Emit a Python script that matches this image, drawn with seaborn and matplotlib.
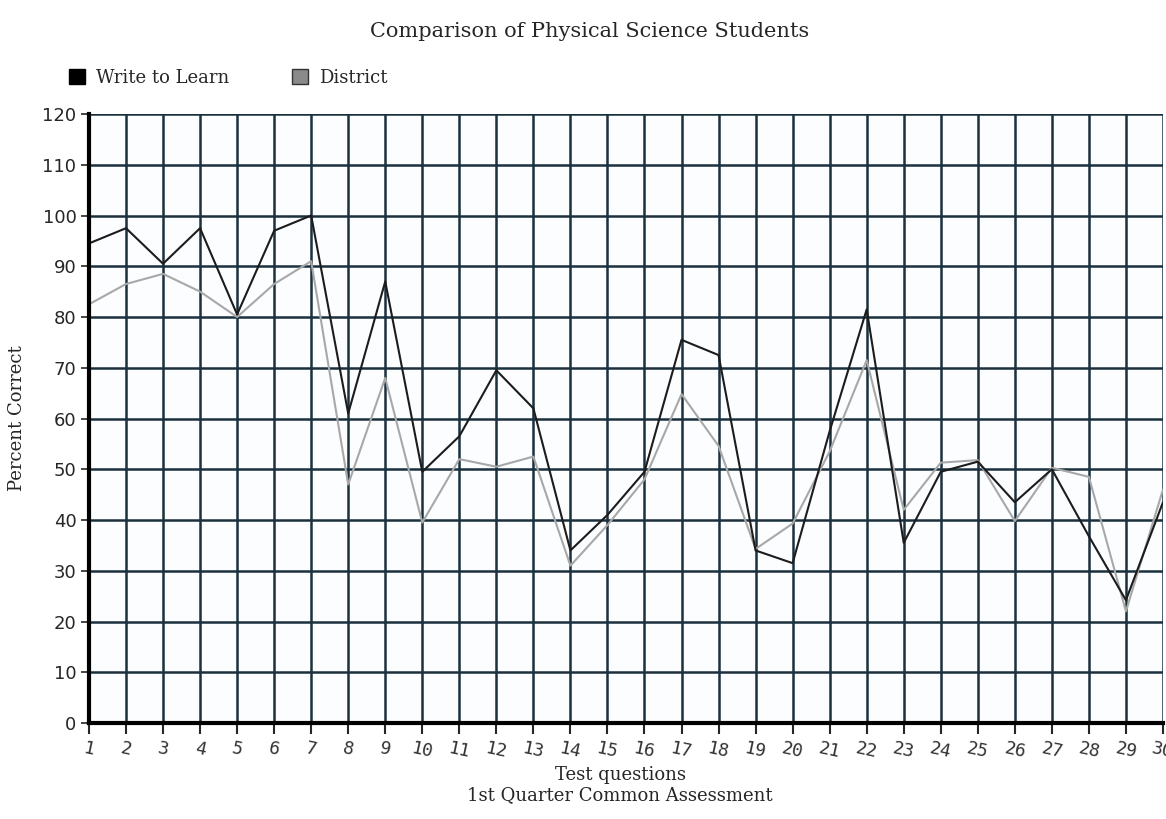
import numpy as np
import pandas as pd
import matplotlib
matplotlib.use("Agg")
import matplotlib.pyplot as plt
import seaborn as sns
from matplotlib.patches import Patch

# data
questions = list(range(1, 31))
write_to_learn = [94.5, 97.5, 90.5, 97.5, 80.5, 97, 100, 61, 87, 49.5,
                  56.5, 69.5, 62, 34, 41, 49.5, 75.5, 72.5, 34, 31.5,
                  57.5, 81.5, 35.5, 49.5, 51.5, 43.5, 50, 36.8, 24.2, 43.5]
district = [82.5, 86.5, 88.5, 85, 80, 86.5, 91, 47, 68, 39.5,
            52, 50.5, 52.5, 31, 39, 48, 64.8, 54.6, 34.3, 39.3,
            53.5, 71.5, 42, 51.3, 51.8, 39.8, 50.3, 48.5, 22, 46]
series_names = ["Write to Learn", "District"]

df = pd.DataFrame({
    "question": questions * 2,
    "pct": write_to_learn + district,
    "group": [series_names[0]] * 30 + [series_names[1]] * 30,
})

sns.set_style("white")
plt.rcParams["font.family"] = ["DejaVu Sans"]

fig = plt.figure(figsize=(11.66, 8.19), dpi=100)
ax = fig.add_axes([0.0763, 0.1172, 0.9211, 0.7436])
ax.set_facecolor("#fbfdfe")

sns.lineplot(data=df, x="question", y="pct", hue="group",
             palette={"Write to Learn": "#1c1c1c", "District": "#a8a8a8"},
             hue_order=series_names[::-1], linewidth=1.5, ax=ax, legend=False)

ax.set_xlim(1, 30)
ax.set_ylim(0, 120)
ax.set_xticks(questions)
ax.set_yticks(range(0, 121, 10))
ax.grid(True, color="#1a303d", linewidth=1.8)
ax.set_axisbelow(True)

for s in ["top", "right"]:
    ax.spines[s].set_visible(False)
for s in ["left", "bottom"]:
    ax.spines[s].set_color("black")
    ax.spines[s].set_linewidth(3)

ax.tick_params(axis="y", left=True, direction="out", length=6, width=1.2,
               labelsize=13, pad=3)
ax.tick_params(axis="x", bottom=True, direction="out", length=8, width=1.5,
               labelsize=13, pad=4)
ax.set_xticklabels([str(q) for q in questions], rotation=-12, family="DejaVu Sans Mono",
                   color="#333333")
ax.set_xlabel("")
ax.set_ylabel("Percent Correct", family="DejaVu Serif", fontsize=13, labelpad=12)

fig.text(0.506, 0.962, "Comparison of Physical Science Students",
         family="DejaVu Serif", fontsize=15, ha="center", va="center")
fig.text(0.532, 0.054, "Test questions", family="DejaVu Serif", fontsize=13,
         ha="center", va="center")
fig.text(0.532, 0.029, "1st Quarter Common Assessment", family="DejaVu Serif",
         fontsize=13, ha="center", va="center")

handles = [Patch(facecolor="#000000", edgecolor="#000000"),
           Patch(facecolor="#8a8a8a", edgecolor="#333333")]
fig.legend(handles, series_names, loc="center left", bbox_to_anchor=(0.045, 0.905),
           ncol=2, frameon=False, handlelength=0.9, handleheight=0.9,
           columnspacing=3.5, handletextpad=0.6,
           prop={"family": "DejaVu Serif", "size": 13})

fig.savefig("out.png", dpi=100, facecolor="white")
